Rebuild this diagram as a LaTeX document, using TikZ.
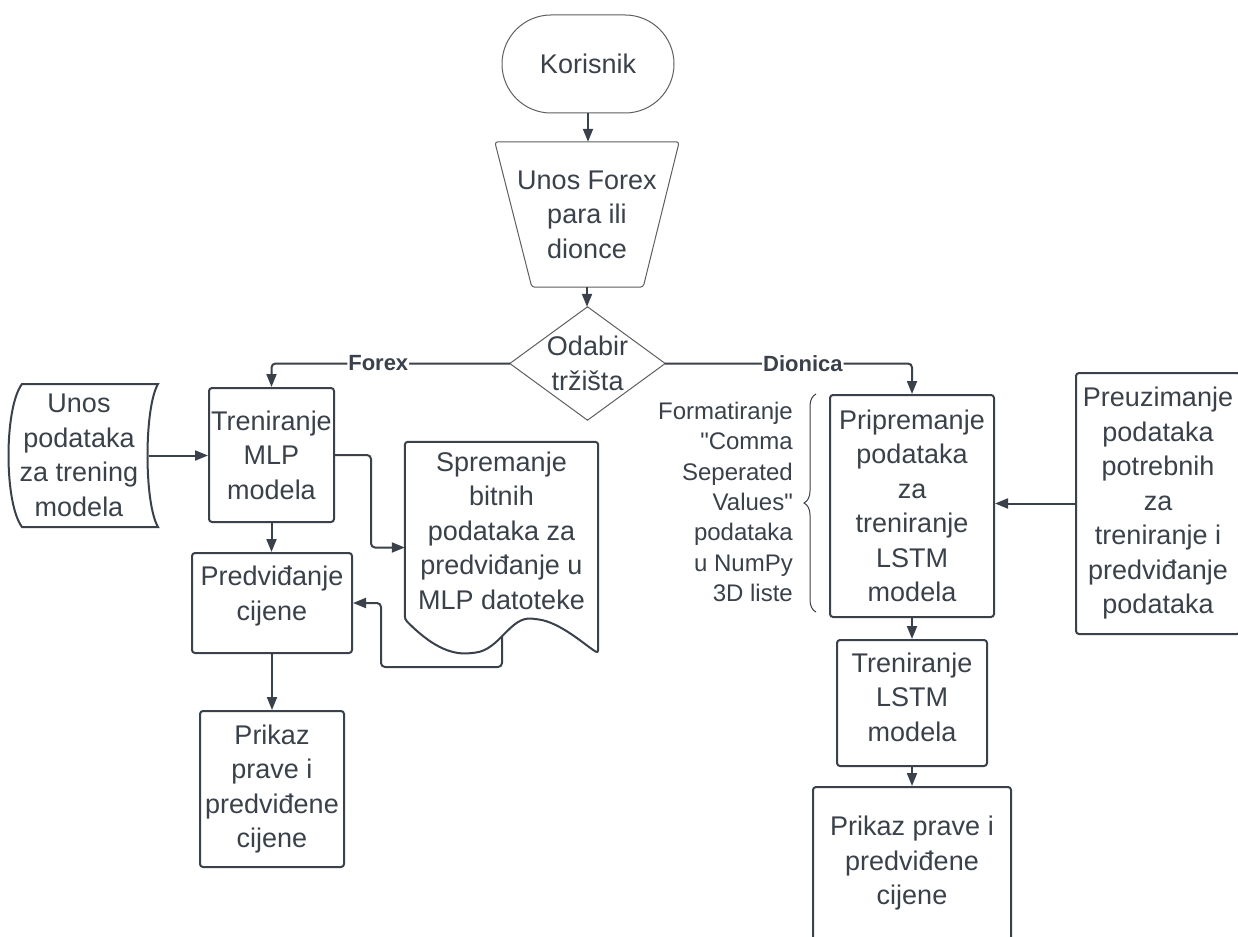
\documentclass[tikz,border=0pt]{standalone}
\usepackage{fontspec}
\setmainfont{Liberation Sans}[Ligatures=TeXOff]
\usetikzlibrary{arrows.meta,calc,decorations.pathreplacing}
\definecolor{ln}{RGB}{58,65,74}
\definecolor{thinln}{RGB}{95,95,95}
\begin{document}
\begin{tikzpicture}[x=1pt,y=-1pt,
  every node/.style={text=ln, font=\fontsize{27}{34.5}\selectfont, align=center, inner sep=0pt},
  box/.style={draw=ln, line width=2pt, rounded corners=3pt},
  thinbox/.style={draw=thinln, line width=1pt},
  conn/.style={draw=ln, line width=2pt, rounded corners=4pt, -{Triangle[length=13pt,width=10pt]}},
  lbl/.style={font=\fontsize{22}{26}\selectfont\bfseries, fill=white, inner sep=1pt},
  note/.style={font=\fontsize{24}{30.3}\selectfont, align=right}
  ]
\useasboundingbox (0,0) rectangle (1238,936);
\fill[white] (0,0) rectangle (1238,936);
\clip (0,0) rectangle (1238,936);

% Korisnik
\node[thinbox, rounded corners=49pt, minimum width=172pt, minimum height=98pt] (kor) at (588,64) {Korisnik};

% Unos Forex (trapezoid)
\node[minimum width=184pt, minimum height=145pt] (unos) at (587,214.5) {Unos Forex\\para ili\\dionce};
\draw[thinbox, rounded corners=3pt] (unos.north west) -- (unos.north east) -- ($(unos.south east)+(-36,0)$) -- ($(unos.south west)+(37,0)$) -- cycle;

% Odabir (diamond)
\node[minimum width=155pt, minimum height=113pt] (odab) at (587.5,363.5) {Odabir\\tržišta};
\draw[thinbox] (odab.north) -- (odab.east) -- (odab.south) -- (odab.west) -- cycle;

% Left branch
\node[minimum width=139pt, minimum height=143pt] (stor) at (79,455.5) {Unos\\podataka\\za trening\\modela};
\draw[draw=ln, line width=2pt] (22,384) -- (158,384) .. controls (144,408) and (144,503) .. (158,527) -- (22,527) .. controls (4,503) and (4,408) .. (22,384) -- cycle;

\node[box, minimum width=125pt, minimum height=134pt] (tmlp) at (271.5,455) {Treniranje\\MLP\\modela};

\node[minimum width=193pt, minimum height=177pt] (spr) at (501.5,530.5) {Spremanje\\bitnih\\podataka za\\predviđanje u\\MLP datoteke};
\draw[draw=ln, line width=2pt, rounded corners=3pt] (spr.south west) -- (spr.north west) -- (spr.north east) -- ($(spr.south east)+(0,34)$)
  .. controls (585,645) and (560,622) .. (535,619)
  .. controls (510,616) and (500,650) .. (472,653)
  .. controls (450,655) and (430,645) .. (spr.south west) -- cycle;
\coordinate (sprB) at (502,636);

\node[box, minimum width=160pt, minimum height=100pt] (pred) at (272,603) {};
\node (predT) at (272,596) {Predviđanje\\cijene};

\node[box, minimum width=144pt, minimum height=156pt] (prikL) at (272,789) {Prikaz\\prave i\\predviđene\\cijene};

% Right branch
\node[box, minimum width=164pt, minimum height=222pt] (prip) at (912,506) {Pripremanje\\podataka\\za\\treniranje\\LSTM\\modela};
\node[note, anchor=east] (fmt) at (793,502) {Formatiranje\\"Comma\\Seperated\\Values"\\podataka\\u NumPy\\3D liste};
\draw[draw=ln, line width=1pt, decorate, decoration={brace, amplitude=12pt, aspect=0.5}] ($(prip.south west)+(-13,-6)$) -- ($(prip.north west)+(-13,0)$);

\node[box, minimum width=164pt, minimum height=261pt] (preuz) at (1158,503.5) {Preuzimanje\\podataka\\potrebnih\\za\\treniranje i\\predviđanje\\podataka};

\node[box, minimum width=150pt, minimum height=126pt] (tlstm) at (912,703) {};
\node (tlstmT) at (912,697) {Treniranje\\LSTM\\modela};

\node[box, minimum width=198pt, minimum height=153pt] (prikR) at (912,863.5) {Prikaz prave i\\predviđene\\cijene};

% Connectors
\draw[conn] (kor.south) -- (kor.south |- unos.north);
\draw[conn] (unos.south) -- (unos.south |- odab.north);
\draw[conn] (odab.west) -| node[lbl, pos=0.276] (lForex) {Forex} (tmlp.north);
\draw[conn] (odab.east) -| node[lbl, pos=0.279] (lDion) {Dionica} (prip.north);
\draw[conn] (stor.east) -- (stor.east -| tmlp.west);
\draw[conn] (tmlp.east) -- ++(36,0) |- ($(spr.west)+(0,17)$);
\draw[conn] (tmlp.south) -- (tmlp.south |- pred.north);
\draw[conn] (pred.south) -- (prikL.north);
\draw[conn] (sprB) -- ++(0,31) -| ($(pred.east)+(28,0)$) -- (pred.east);
\draw[conn] (preuz.west) -- (preuz.west -| prip.east);
\draw[conn] (prip.south) -- (tlstm.north);
\draw[conn] (tlstm.south) -- (prikR.north);
\end{tikzpicture}
\end{document}
